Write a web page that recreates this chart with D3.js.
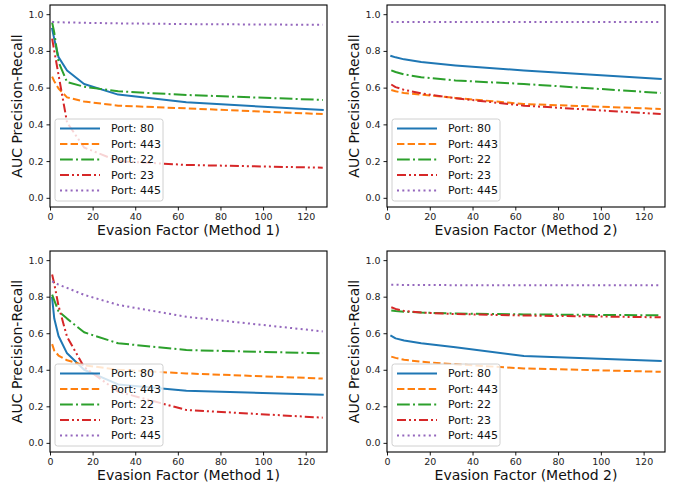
<!DOCTYPE html>
<html>
<head>
<meta charset="utf-8">
<script src="https://cdn.jsdelivr.net/npm/d3@7"></script>
<style>
  html, body { margin: 0; padding: 0; background: #fff; }
  svg { display: block; font-family: "DejaVu Sans", sans-serif; }
</style>
</head>
<body>
<svg id="chart" width="678" height="485"></svg>
<script>
// ---- Data ----
const xMethod1 = [1, 2, 4, 8, 16, 32, 64, 128];
const xMethod2 = [2, 4, 8, 16, 32, 64, 128];
const ports = ["80", "443", "22", "23", "445"];
const xTicks = [0, 20, 40, 60, 80, 100, 120];
const yTicks = [0.0, 0.2, 0.4, 0.6, 0.8, 1.0];
const xLabels = ["Evasion Factor (Method 1)", "Evasion Factor (Method 2)"];
const yLabel = "AUC Precision-Recall";

// Top-left panel (Method 1)
const tl80  = [0.920, 0.865, 0.766, 0.693, 0.620, 0.562, 0.520, 0.478];
const tl443 = [0.660, 0.635, 0.595, 0.547, 0.524, 0.502, 0.487, 0.456];
const tl22  = [0.955, 0.900, 0.740, 0.630, 0.605, 0.580, 0.560, 0.533];
const tl23  = [0.867, 0.800, 0.670, 0.410, 0.274, 0.200, 0.179, 0.164];
const tl445 = [0.957, 0.957, 0.956, 0.955, 0.953, 0.950, 0.946, 0.942];

// Top-right panel (Method 2)
const tr80  = [0.772, 0.765, 0.754, 0.739, 0.721, 0.693, 0.648];
const tr443 = [0.587, 0.580, 0.571, 0.562, 0.544, 0.511, 0.484];
const tr22  = [0.694, 0.685, 0.672, 0.657, 0.639, 0.620, 0.571];
const tr23  = [0.617, 0.603, 0.588, 0.569, 0.542, 0.502, 0.456];
const tr445 = [0.957, 0.957, 0.957, 0.957, 0.957, 0.957, 0.957];

// Bottom-left panel (Method 1)
const bl80  = [0.793, 0.680, 0.585, 0.490, 0.400, 0.320, 0.285, 0.263];
const bl443 = [0.540, 0.505, 0.478, 0.452, 0.425, 0.400, 0.380, 0.352];
const bl22  = [0.811, 0.780, 0.720, 0.680, 0.605, 0.545, 0.508, 0.490];
const bl23  = [0.921, 0.870, 0.750, 0.580, 0.415, 0.280, 0.180, 0.138];
const bl445 = [0.884, 0.878, 0.866, 0.848, 0.810, 0.755, 0.690, 0.610];

// Bottom-right panel (Method 2)
const br80  = [0.585, 0.572, 0.560, 0.545, 0.523, 0.475, 0.448];
const br443 = [0.472, 0.465, 0.455, 0.444, 0.430, 0.407, 0.389];
const br22  = [0.725, 0.722, 0.718, 0.713, 0.708, 0.703, 0.698];
const br23  = [0.742, 0.733, 0.722, 0.713, 0.705, 0.697, 0.687];
const br445 = [0.865, 0.865, 0.864, 0.864, 0.863, 0.863, 0.862];

// ---- Styles ----
const colors = ["#1f77b4", "#ff7f0e", "#2ca02c", "#d62728", "#9467bd"];
const dashes = [null, "7.4,3.2", "12.8,3.2,2,3.2", "9,3,2,3,2,3", "2,3.3"];

const panels = [
  { x: xMethod1, series: [tl80, tl443, tl22, tl23, tl445], xl: xLabels[0], left: 50,  top: 5,   w: 277, h: 202 },
  { x: xMethod2, series: [tr80, tr443, tr22, tr23, tr445], xl: xLabels[1], left: 387, top: 5,   w: 278, h: 202 },
  { x: xMethod1, series: [bl80, bl443, bl22, bl23, bl445], xl: xLabels[0], left: 50,  top: 251, w: 277, h: 201 },
  { x: xMethod2, series: [br80, br443, br22, br23, br445], xl: xLabels[1], left: 387, top: 251, w: 278, h: 201 }
];

const svg = d3.select("#chart");

panels.forEach(p => {
  const g = svg.append("g").attr("transform", `translate(${p.left},${p.top})`);
  const x = d3.scaleLinear().domain([0, 130]).range([0, p.w]);
  const y = d3.scaleLinear().domain([-0.05, 1.05]).range([p.h, 0]);

  // Axes
  const xAxis = d3.axisBottom(x).tickValues(xTicks).tickFormat(d3.format("d")).tickSizeOuter(0).tickSize(3.5).tickPadding(2.5);
  const yAxis = d3.axisLeft(y).tickValues(yTicks).tickFormat(d3.format(".1f")).tickSizeOuter(0).tickSize(3.5).tickPadding(3);

  const gx = g.append("g").attr("transform", `translate(0,${p.h})`).call(xAxis);
  const gy = g.append("g").call(yAxis);
  [gx, gy].forEach(a => {
    a.select(".domain").remove();
    a.selectAll("text").attr("font-size", "9.5px").attr("fill", "#222").attr("font-family", "DejaVu Sans, sans-serif");
    a.selectAll("line").attr("stroke", "#000").attr("stroke-width", 0.9);
  });

  // Lines
  const line = d3.line().x((d, i) => x(p.x[i])).y(d => y(d));
  p.series.forEach((s, k) => {
    g.append("path")
      .datum(s)
      .attr("d", line)
      .attr("fill", "none")
      .attr("stroke", colors[k])
      .attr("stroke-width", 2)
      .attr("stroke-dasharray", dashes[k])
      .attr("stroke-linecap", k === 0 ? "square" : "butt")
      .attr("stroke-linejoin", "round");
  });

  // Frame
  g.append("rect").attr("x", 0).attr("y", 0).attr("width", p.w).attr("height", p.h)
    .attr("fill", "none").attr("stroke", "#000").attr("stroke-width", 1.1);

  // Legend
  const lg = g.append("g").attr("transform", `translate(5,${p.h - 88})`);
  lg.append("rect").attr("x", 0).attr("y", 0).attr("width", 108).attr("height", 82)
    .attr("rx", 2.5).attr("ry", 2.5)
    .attr("fill", "rgba(255,255,255,0.8)").attr("stroke", "#d0d0d0").attr("stroke-width", 1);
  ports.forEach((port, k) => {
    const cy = 9.5 + k * 15.5;
    lg.append("line").attr("x1", 5).attr("x2", 45).attr("y1", cy).attr("y2", cy)
      .attr("stroke", colors[k]).attr("stroke-width", 2)
      .attr("stroke-dasharray", dashes[k]);
    lg.append("text").attr("x", 56).attr("y", cy).attr("dy", "0.35em")
      .attr("font-size", "11px").attr("fill", "#111").text("Port: " + port);
  });

  // Axis labels
  g.append("text").attr("x", p.w / 2).attr("y", p.h + 28)
    .attr("text-anchor", "middle").attr("font-size", "14px").attr("fill", "#111").text(p.xl);
  g.append("text")
    .attr("transform", `translate(${-28},${p.h / 2}) rotate(-90)`)
    .attr("text-anchor", "middle").attr("font-size", "14px").attr("fill", "#111").text(yLabel);
});
</script>
</body>
</html>
